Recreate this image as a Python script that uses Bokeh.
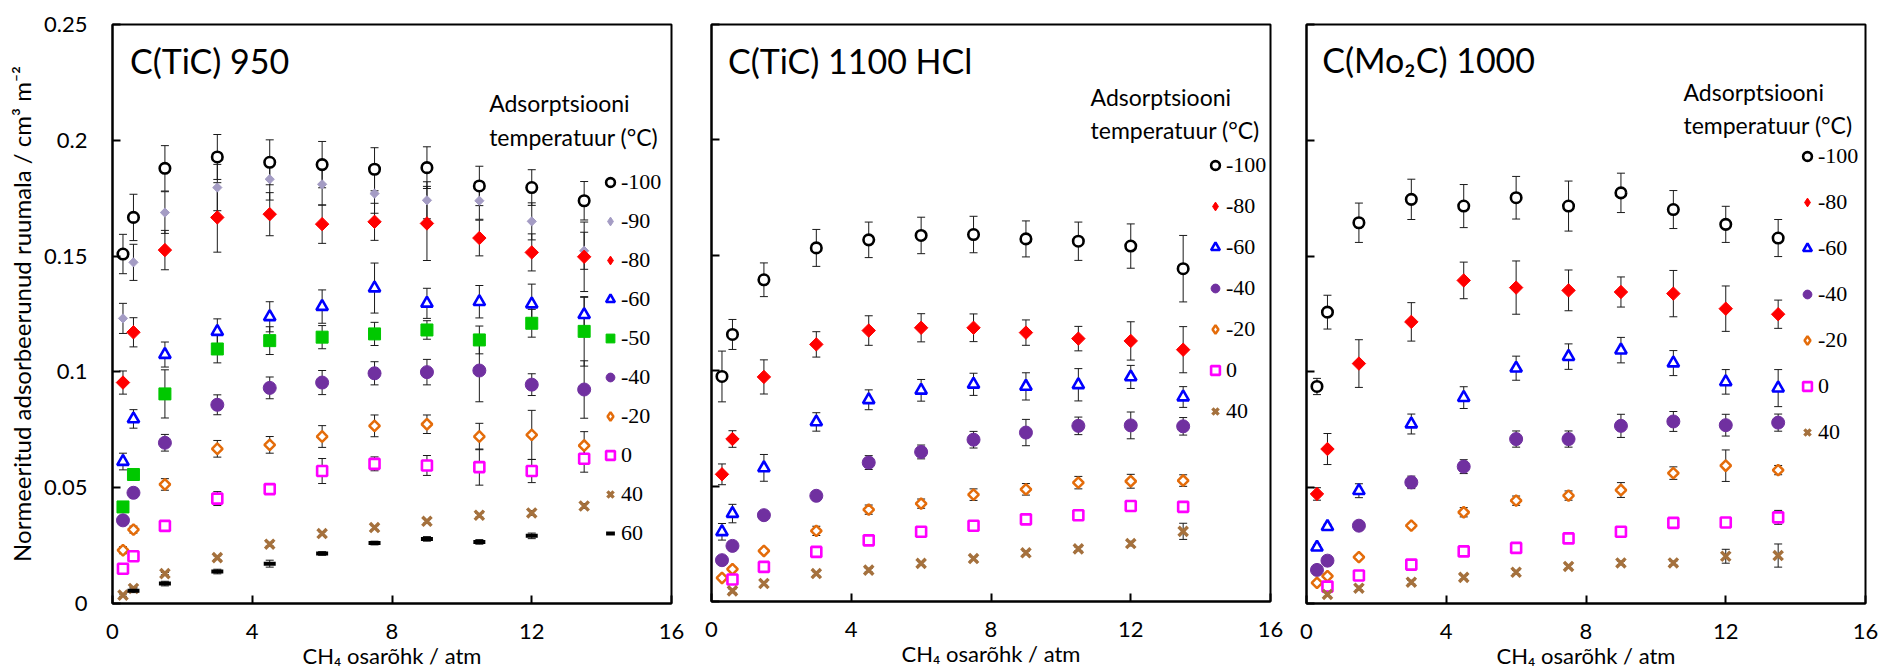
from math import pi

from bokeh.embed import file_html
from bokeh.layouts import row
from bokeh.models import (ColumnDataSource, CustomJSTickFormatter, FixedTicker, Label,
                          Legend, LegendItem, NumeralTickFormatter, Range1d, TeeHead, Whisker)
from bokeh.plotting import figure
from bokeh.resources import INLINE

# CH4 partial pressures (atm)
P_ALL = [0.3, 0.6, 1.5, 3.0, 4.5, 6.0, 7.5, 9.0, 10.5, 12.0, 13.5]
P_FROM_06 = [0.6, 1.5, 3.0, 4.5, 6.0, 7.5, 9.0, 10.5, 12.0, 13.5]
P_TO_12 = [0.6, 1.5, 3.0, 4.5, 6.0, 7.5, 9.0, 10.5, 12.0]

# ---- C(TiC) 950 : normalised adsorbed volume (cm3 m-2) and errors ----
TIC950_M100 = [0.1509, 0.1667, 0.1879, 0.1928, 0.1905, 0.1895, 0.1875, 0.1882, 0.1803, 0.1796, 0.1739]
TIC950_M100_ERR = [0.0085, 0.0100, 0.0098, 0.0097, 0.0097, 0.0100, 0.0093, 0.0090, 0.0085, 0.0077, 0.0083]
TIC950_M90 = [0.1231, 0.1473, 0.1688, 0.1796, 0.1832, 0.1810, 0.1770, 0.1741, 0.1739, 0.1650, 0.1523]
TIC950_M90_ERR = [0.0065, 0.0078, 0.0090, 0.0100, 0.0090, 0.0090, 0.0085, 0.0080, 0.0080, 0.0080, 0.0080]
TIC950_M80 = [0.0954, 0.1171, 0.1526, 0.1667, 0.1681, 0.1638, 0.1648, 0.1641, 0.1578, 0.1516, 0.1497]
TIC950_M80_ERR = [0.0050, 0.0063, 0.0085, 0.0150, 0.0093, 0.0083, 0.0080, 0.0160, 0.0077, 0.0080, 0.0150]
TIC950_M60 = [0.0613, 0.0797, 0.1075, 0.1174, 0.1238, 0.1282, 0.1362, 0.1296, 0.1303, 0.1293, 0.1247]
TIC950_M60_ERR = [0.0036, 0.0040, 0.0054, 0.0055, 0.0065, 0.0072, 0.0108, 0.0065, 0.0070, 0.0086, 0.0075]
TIC950_M50 = [0.0417, 0.0557, 0.0905, 0.1099, 0.1135, 0.1150, 0.1164, 0.1181, 0.1138, 0.1210, 0.1175]
TIC950_M50_ERR = [0.0020, 0.0020, 0.0104, 0.0060, 0.0060, 0.0050, 0.0050, 0.0040, 0.0060, 0.0060, 0.0150]
TIC950_M40 = [0.0359, 0.0478, 0.0694, 0.0858, 0.0931, 0.0954, 0.0994, 0.0999, 0.1006, 0.0945, 0.0924]
TIC950_M40_ERR = [0.0020, 0.0020, 0.0036, 0.0043, 0.0047, 0.0052, 0.0050, 0.0055, 0.0135, 0.0047, 0.0124]
TIC950_M20 = [0.0230, 0.0319, 0.0514, 0.0668, 0.0685, 0.0721, 0.0767, 0.0774, 0.0721, 0.0728, 0.0682]
TIC950_M20_ERR = [0.0015, 0.0015, 0.0025, 0.0036, 0.0036, 0.0047, 0.0047, 0.0040, 0.0057, 0.0106, 0.0060]
TIC950_0 = [0.0150, 0.0204, 0.0335, 0.0453, 0.0494, 0.0572, 0.0603, 0.0596, 0.0589, 0.0572, 0.0625]
TIC950_0_ERR = [0.0015, 0.0015, 0.0015, 0.0030, 0.0020, 0.0054, 0.0030, 0.0043, 0.0078, 0.0050, 0.0058]
TIC950_40 = [0.0036, 0.0065, 0.0129, 0.0198, 0.0256, 0.0302, 0.0328, 0.0355, 0.0381, 0.0391, 0.0421]
TIC950_40_ERR = [0.0005, 0.0005, 0.0005, 0.0008, 0.0008, 0.0008, 0.0008, 0.0008, 0.0008, 0.0010, 0.0010]
TIC950_60 = [0.0055, 0.0086, 0.0138, 0.0172, 0.0216, 0.0261, 0.0279, 0.0266, 0.0292]
TIC950_60_ERR = [0.0008, 0.0010, 0.0010, 0.0015, 0.0008, 0.0008, 0.0010, 0.0010, 0.0012]

# ---- C(TiC) 1100 HCl ----
TIC1100_M100 = [0.0975, 0.1157, 0.1394, 0.1532, 0.1567, 0.1586, 0.1590, 0.1571, 0.1561, 0.1540, 0.1442]
TIC1100_M100_ERR = [0.0110, 0.0065, 0.0073, 0.0080, 0.0077, 0.0079, 0.0079, 0.0078, 0.0083, 0.0096, 0.0144]
TIC1100_M80 = [0.0551, 0.0704, 0.0973, 0.1114, 0.1174, 0.1186, 0.1186, 0.1165, 0.1139, 0.1129, 0.1091]
TIC1100_M80_ERR = [0.0045, 0.0036, 0.0074, 0.0055, 0.0064, 0.0061, 0.0060, 0.0055, 0.0053, 0.0083, 0.0100]
TIC1100_M60 = [0.0302, 0.0381, 0.0579, 0.0778, 0.0874, 0.0915, 0.0941, 0.0932, 0.0939, 0.0973, 0.0886]
TIC1100_M60_ERR = [0.0036, 0.0040, 0.0058, 0.0040, 0.0043, 0.0047, 0.0048, 0.0059, 0.0070, 0.0050, 0.0045]
TIC1100_M40 = [0.0179, 0.0241, 0.0374, 0.0458, 0.0602, 0.0648, 0.0701, 0.0732, 0.0761, 0.0763, 0.0759]
TIC1100_M40_ERR = [0.0010, 0.0010, 0.0010, 0.0010, 0.0030, 0.0030, 0.0036, 0.0057, 0.0038, 0.0058, 0.0038]
TIC1100_M20 = [0.0102, 0.0140, 0.0219, 0.0306, 0.0398, 0.0424, 0.0463, 0.0486, 0.0515, 0.0521, 0.0524]
TIC1100_M20_ERR = [0.0010, 0.0010, 0.0010, 0.0020, 0.0020, 0.0020, 0.0025, 0.0025, 0.0027, 0.0030, 0.0025]
TIC1100_0 = [0.0095, 0.0150, 0.0215, 0.0265, 0.0302, 0.0328, 0.0356, 0.0374, 0.0414, 0.0410]
TIC1100_0_ERR = [0.0010, 0.0010, 0.0010, 0.0010, 0.0010, 0.0010, 0.0010, 0.0010, 0.0010, 0.0015]
TIC1100_40 = [0.0046, 0.0078, 0.0121, 0.0136, 0.0165, 0.0186, 0.0211, 0.0228, 0.0251, 0.0304]
TIC1100_40_ERR = [0.0008, 0.0008, 0.0008, 0.0008, 0.0008, 0.0008, 0.0008, 0.0008, 0.0010, 0.0035]

# ---- C(Mo2C) 1000 ----
MO2C_M100 = [0.0937, 0.1258, 0.1644, 0.1745, 0.1716, 0.1752, 0.1716, 0.1773, 0.1701, 0.1637, 0.1578]
MO2C_M100_ERR = [0.0035, 0.0073, 0.0085, 0.0087, 0.0093, 0.0092, 0.0108, 0.0085, 0.0082, 0.0078, 0.0080]
MO2C_M80 = [0.0473, 0.0667, 0.1036, 0.1216, 0.1395, 0.1364, 0.1352, 0.1345, 0.1338, 0.1273, 0.1249]
MO2C_M80_ERR = [0.0027, 0.0067, 0.0103, 0.0083, 0.0079, 0.0115, 0.0088, 0.0065, 0.0100, 0.0098, 0.0061]
MO2C_M60 = [0.0243, 0.0332, 0.0487, 0.0775, 0.0889, 0.1016, 0.1066, 0.1094, 0.1038, 0.0957, 0.0930]
MO2C_M60_ERR = [0.0010, 0.0010, 0.0030, 0.0043, 0.0047, 0.0052, 0.0055, 0.0055, 0.0054, 0.0053, 0.0080]
MO2C_M40 = [0.0145, 0.0185, 0.0336, 0.0523, 0.0591, 0.0710, 0.0710, 0.0767, 0.0786, 0.0770, 0.0781]
MO2C_M40_ERR = [0.0010, 0.0010, 0.0010, 0.0027, 0.0030, 0.0035, 0.0035, 0.0050, 0.0043, 0.0047, 0.0037]
MO2C_M20 = [0.0089, 0.0118, 0.0200, 0.0336, 0.0394, 0.0444, 0.0466, 0.0490, 0.0563, 0.0595, 0.0576]
MO2C_M20_ERR = [0.0010, 0.0010, 0.0010, 0.0010, 0.0020, 0.0020, 0.0020, 0.0032, 0.0027, 0.0068, 0.0020]
MO2C_0 = [0.0073, 0.0121, 0.0168, 0.0225, 0.0240, 0.0281, 0.0310, 0.0348, 0.0350, 0.0372]
MO2C_0_ERR = [0.0010, 0.0010, 0.0020, 0.0010, 0.0010, 0.0010, 0.0010, 0.0010, 0.0010, 0.0030]
MO2C_40 = [0.0039, 0.0066, 0.0092, 0.0113, 0.0135, 0.0160, 0.0175, 0.0175, 0.0204, 0.0207]
MO2C_40_ERR = [0.0008, 0.0008, 0.0008, 0.0008, 0.0008, 0.0008, 0.0008, 0.0008, 0.0030, 0.0050]

X_TICKS = [0, 4, 8, 12, 16]
Y_TICKS = [0, 0.05, 0.10, 0.15, 0.20, 0.25]

SANS = "Lato"
SERIF = "Liberation Serif"

# marker look of every adsorption temperature
STYLE = {
    "-100": dict(marker="circle", size=10.5, line_color="black", fill_color="white", line_width=2.6),
    "-90": dict(marker="square", angle=pi / 4, size=6.5, line_color="#A49CC4", fill_color="#A49CC4"),
    "-80": dict(marker="square", angle=pi / 4, size=9.5, line_color="#FF0000", fill_color="#FF0000"),
    "-60": dict(marker="triangle", size=11.5, line_color="#0000FF", fill_color="white", line_width=2.6),
    "-50": dict(marker="square", size=12, line_color="#00C800", fill_color="#00C800"),
    "-40": dict(marker="circle", size=13, line_color="#7030A0", fill_color="#7030A0"),
    "-20": dict(marker="square", angle=pi / 4, size=7.5, line_color="#E46C0A", fill_color="white", line_width=2.5),
    "0": dict(marker="square", size=10, line_color="#FF00FF", fill_color="white", line_width=2.6),
    "40": dict(marker="x", size=13, line_color="#A5713D", line_width=3.4),
    "60": dict(marker="dash", size=12, line_color="black", line_width=4),
}

# the key shows tilted squares as diamonds (legend glyphs are drawn unrotated)
KEY_MARKER = {"-90": "diamond", "-80": "diamond", "-20": "diamond"}

PANELS = [
    dict(title="C(TiC) 950", title_xy=(0.50, 0.2346),
         header_xy=(10.78, 0.2160, 0.2016),
         series=[("-100", P_ALL, TIC950_M100, TIC950_M100_ERR),
                 ("-90", P_ALL, TIC950_M90, TIC950_M90_ERR),
                 ("-80", P_ALL, TIC950_M80, TIC950_M80_ERR),
                 ("-60", P_ALL, TIC950_M60, TIC950_M60_ERR),
                 ("-50", P_ALL, TIC950_M50, TIC950_M50_ERR),
                 ("-40", P_ALL, TIC950_M40, TIC950_M40_ERR),
                 ("-20", P_ALL, TIC950_M20, TIC950_M20_ERR),
                 ("0", P_ALL, TIC950_0, TIC950_0_ERR),
                 ("40", P_ALL, TIC950_40, TIC950_40_ERR),
                 ("60", P_TO_12, TIC950_60, TIC950_60_ERR)],
         borders=(112, 20, 21, 71), frame_h=579, y_labels=True,
         legend_loc=(487, 56), legend_spacing=11),
    dict(title="C(TiC) 1100 HCl", title_xy=(0.47, 0.2345),
         header_xy=(10.85, 0.2185, 0.2042),
         series=[("-100", P_ALL, TIC1100_M100, TIC1100_M100_ERR),
                 ("-80", P_ALL, TIC1100_M80, TIC1100_M80_ERR),
                 ("-60", P_ALL, TIC1100_M60, TIC1100_M60_ERR),
                 ("-40", P_ALL, TIC1100_M40, TIC1100_M40_ERR),
                 ("-20", P_ALL, TIC1100_M20, TIC1100_M20_ERR),
                 ("0", P_FROM_06, TIC1100_0, TIC1100_0_ERR),
                 ("40", P_FROM_06, TIC1100_40, TIC1100_40_ERR)],
         borders=(20, 18, 21, 73), frame_h=577, y_labels=False,
         legend_loc=(493, 176), legend_spacing=13),
    dict(title="C(Mo\u2082C) 1000", title_xy=(0.45, 0.2349),
         header_xy=(10.79, 0.2210, 0.2067),
         series=[("-100", P_ALL, MO2C_M100, MO2C_M100_ERR),
                 ("-80", P_ALL, MO2C_M80, MO2C_M80_ERR),
                 ("-60", P_ALL, MO2C_M60, MO2C_M60_ERR),
                 ("-40", P_ALL, MO2C_M40, MO2C_M40_ERR),
                 ("-20", P_ALL, MO2C_M20, MO2C_M20_ERR),
                 ("0", P_FROM_06, MO2C_0, MO2C_0_ERR),
                 ("40", P_FROM_06, MO2C_40, MO2C_40_ERR)],
         borders=(18, 23, 24, 68), frame_h=579, y_labels=False,
         legend_loc=(490, 157), legend_spacing=18),
]


def build_panel(cfg):
    left, right, top, bottom = cfg["borders"]
    p = figure(frame_width=559, frame_height=cfg["frame_h"],
               min_border_left=left, min_border_right=right,
               min_border_top=top, min_border_bottom=bottom,
               x_range=Range1d(0, 16), y_range=Range1d(0, 0.25),
               output_backend="svg", toolbar_location=None,
               background_fill_color="white", border_fill_color="white")
    p.grid.visible = False
    p.outline_line_color = "black"
    p.outline_line_width = 2
    p.outline_line_alpha = 1

    for ax in (p.xaxis[0], p.yaxis[0]):
        ax.axis_line_width = 2
        ax.axis_line_color = "black"
        ax.major_tick_in = 8
        ax.major_tick_out = 0
        ax.major_tick_line_width = 2
        ax.minor_tick_line_color = None
        ax.major_label_text_font = SANS
        ax.major_label_text_font_size = "22px"
        ax.major_label_text_color = "black"
        ax.axis_label_text_font = SANS
        ax.axis_label_text_font_style = "normal"
        ax.axis_label_text_color = "black"

    p.xaxis.ticker = FixedTicker(ticks=X_TICKS)
    p.xaxis.major_label_standoff = 20
    p.xaxis.axis_label = "CH\u2084 osar\u00f5hk / atm"
    p.xaxis.axis_label_text_font_size = "22px"
    p.xaxis.axis_label_standoff = 0

    p.yaxis.ticker = FixedTicker(ticks=Y_TICKS)
    if cfg["y_labels"]:
        p.yaxis.formatter = NumeralTickFormatter(format="0.[00]")
        p.yaxis.major_label_standoff = 25
        p.yaxis.axis_label = "Normeeritud adsorbeerunud ruumala / cm\u00b3 m\u207b\u00b2"
        p.yaxis.axis_label_text_font_size = "24px"
        p.yaxis.axis_label_standoff = 5
    else:
        p.yaxis.formatter = CustomJSTickFormatter(code="return ''")
        p.yaxis.major_label_standoff = 0

    items = []
    for label, xs, ys, errs in cfg["series"]:
        src = ColumnDataSource(dict(
            x=xs, y=ys,
            lo=[v - e for v, e in zip(ys, errs)],
            hi=[v + e for v, e in zip(ys, errs)],
        ))
        p.add_layout(Whisker(
            source=src, base="x", lower="lo", upper="hi", dimension="height",
            line_color="#1a1a1a", line_width=1,
            lower_head=TeeHead(size=8, line_color="#1a1a1a", line_width=1),
            upper_head=TeeHead(size=8, line_color="#1a1a1a", line_width=1),
        ))
        style = STYLE[label]
        r = p.scatter(x="x", y="y", source=src, **style)
        if label in KEY_MARKER:
            key_style = {k: v for k, v in style.items() if k not in ("marker", "angle", "size")}
            key = p.scatter(x="x", y="y", source=src, marker=KEY_MARKER[label],
                            size=style["size"], visible=False, **key_style)
            items.append(LegendItem(label=label, renderers=[key]))
        else:
            items.append(LegendItem(label=label, renderers=[r]))

    legend = Legend(items=items, location=cfg["legend_loc"],
                    glyph_width=22, glyph_height=28, label_standoff=0,
                    label_height=28,
                    spacing=cfg["legend_spacing"], padding=0, margin=0,
                    border_line_color=None, background_fill_alpha=0,
                    inactive_fill_alpha=0,
                    label_text_font=SERIF, label_text_font_size="22px",
                    label_text_color="black")
    p.add_layout(legend)

    tx, ty = cfg["title_xy"]
    p.add_layout(Label(x=tx, y=ty, text=cfg["title"], text_font=SANS,
                       text_font_size="34px", text_baseline="middle",
                       text_color="black"))
    hx, hy1, hy2 = cfg["header_xy"]
    p.add_layout(Label(x=hx, y=hy1, text="Adsorptsiooni", text_font=SANS,
                       text_font_size="23px", text_baseline="middle", text_color="black"))
    p.add_layout(Label(x=hx, y=hy2, text="temperatuur (\u00b0C)", text_font=SANS,
                       text_font_size="23px", text_baseline="middle", text_color="black"))
    return p


layout = row(*[build_panel(cfg) for cfg in PANELS], spacing=0)

with open("out.html", "w") as f:
    f.write(file_html(layout, INLINE, title="CH4 adsorptsioon"))
